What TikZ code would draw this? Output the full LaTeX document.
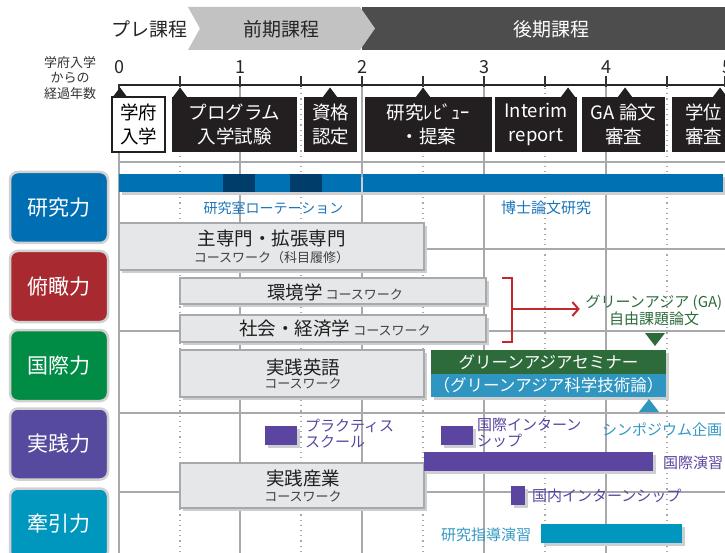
\documentclass[tikz,border=0pt]{standalone}
\usepackage{fontspec}
\setmainfont{Noto Sans CJK JP}
\usetikzlibrary{arrows.meta}
\newcommand{\fs}[2]{\fontsize{#1}{#2}\selectfont}
\definecolor{hdark}{HTML}{4D4D4D}
\definecolor{hlight}{HTML}{C2C2C2}
\definecolor{evblack}{HTML}{231F20}
\definecolor{gridgray}{HTML}{A7A9AC}
\definecolor{boxfill}{HTML}{E6E7E8}
\definecolor{shadowgray}{HTML}{CDCED0}
\definecolor{kblue}{HTML}{0071B3}
\definecolor{kdark}{HTML}{003D6B}
\definecolor{rowA}{HTML}{006EB2}
\definecolor{rowB}{HTML}{A8292F}
\definecolor{rowC}{HTML}{008C45}
\definecolor{rowD}{HTML}{564A9E}
\definecolor{rowE}{HTML}{0097BE}
\definecolor{purp}{HTML}{5B45A0}
\definecolor{gtext}{HTML}{2D6A3B}
\definecolor{semgreen}{HTML}{2E6B3A}
\definecolor{semblue}{HTML}{2E96C0}
\definecolor{tealbar}{HTML}{0097BF}
\definecolor{symtext}{HTML}{3398C4}
\definecolor{rottext}{HTML}{1B75B8}
\definecolor{bred}{HTML}{C1272D}
\tikzset{
  every node/.style={inner sep=0pt, outer sep=0pt},
  shadowed/.style={preaction={fill=shadowgray, transform canvas={xshift=3pt, yshift=-3pt}}},
  evbox/.style={fill=evblack, text=white, minimum height=55pt, align=center, font=\fs{18.5}{24}},
  rowbox/.style={rounded corners=8pt, draw=black!18, line width=2.5pt, text=white,
     minimum width=98pt, minimum height=71pt, font=\fs{21}{24}},
  cbox/.style={shadowed, fill=boxfill, draw=gridgray, line width=1.5pt},
  bigtxt/.style={font=\fs{18.5}{22}, text=black!88},
  smalltxt/.style={font=\fs{13}{15}, text=black!75},
  itemtxt/.style={font=\fs{15}{16.5}, align=left},
  gline/.style={draw=gridgray, line width=1.5pt},
  dline/.style={draw=gridgray, line width=1.3pt, dash pattern=on 1.2pt off 4pt},
}
\begin{document}
\begin{tikzpicture}[x=1pt,y=-1pt]
\useasboundingbox (0,0) rectangle (725,553);
% ---------- header bands
\fill[hdark] (362,7) rectangle (725,50);
\fill[hlight] (188,7) -- (360,7) -- (375,28.5) -- (360,50) -- (188,50) -- (200,28.5) -- cycle;
\node[font=\fs{19}{22}, text=black!85] (pre) at (149,29) {プレ課程};
\node[font=\fs{19}{22}, text=black!85] (zenki) at (281,29) {前期課程};
\node[font=\fs{19}{22}, text=white] (kouki) at (551,29) {後期課程};
% ---------- axis
\node[font=\fs{13}{15.5}, align=center, text=black!80] (elapsed) at (70,78) {学府入学\\からの\\経過年数};
\foreach \x/\n in {119/0,240/1,362/2,484/3,606/4,727/5}
  \node[font=\fs{18}{20}, text=black!85] (num\n) at (\x,67) {\n};
\draw[line width=1.5pt, black!85] (119,85) -- (725,85);
\foreach \x in {180,240,301,362,423,484,545,606,667,725}
  \draw[line width=1.2pt, black!80] (\x,76) -- (\x,87);
\draw[line width=1.2pt, black!80] (119,84) -- (119,90);
% ---------- grid
\foreach \x in {240,362,484,606}
  \draw[gline] (\x,87) -- (\x,553);
\draw[gline] (119,152) -- (119,553);
\foreach \x in {180,301,423,545,667}
  \draw[dline] (\x,88) -- (\x,553);
\foreach \y in {162,249,331,413,492}
  \draw[gline] (119,\y) -- (725,\y);
% ---------- event boxes
\node[evbox, fill=white, draw=evblack, line width=1.5pt, text=black, minimum width=53pt] (gakufu) at (138.5,124.5) {学府\\入学};
\node[evbox, minimum width=125pt] (program) at (234.5,124.5) {プログラム\\入学試験};
\node[evbox, minimum width=53pt] (shikaku) at (330.5,124.5) {資格\\認定};
\node[evbox, minimum width=127pt] (review) at (428.5,124.5) {研究ﾚﾋﾞｭｰ\\・提案};
\node[evbox, minimum width=82pt] (interim) at (536,124.5) {Interim\\report};
\node[evbox, minimum width=83pt] (gashinsa) at (623.5,124.5) {GA 論文\\審査};
\node[evbox, minimum width=63pt] (gakui) at (703.5,124.5) {学位\\審査};
\foreach \x in {120,180,330,423,568,625,720}
  \fill[evblack] (\x,87.5) -- (\x+7.5,97.5) -- (\x-7.5,97.5) -- cycle;
% ---------- row labels
\node[rowbox, fill=rowA] (kenkyu) at (59,207.5) {研究力};
\node[rowbox, fill=rowB] (fukan) at (59,286.5) {俯瞰力};
\node[rowbox, fill=rowC] (kokusai) at (59,365.5) {国際力};
\node[rowbox, fill=rowD] (jissen) at (59,444) {実践力};
\node[rowbox, fill=rowE] (kenin) at (59,524) {牽引力};
% ---------- research bar
\fill[shadowgray] (122,177) rectangle (726,195);
\fill[kblue] (119,174) rectangle (361,192);
\fill[kblue] (363,174) rectangle (723,192);
\fill[kdark] (223,174) rectangle (255,192);
\fill[kdark] (290,174) rectangle (322,192);
\node[font=\fs{14}{16}, text=rottext] (rotation) at (273.5,208) {研究室ローテーション};
\node[font=\fs{15}{17}, text=rottext] (hakase) at (546,208) {博士論文研究};
% ---------- coursework boxes
\node[cbox, minimum width=305pt, minimum height=47pt] (senmon) at (271.5,246.5) {};
\node[bigtxt] (senmonA) at (271.5,239) {主専門・拡張専門};
\node[smalltxt] (senmonB) at (271.5,257.5) {コースワーク（科目履修）};
\node[cbox, minimum width=306pt, minimum height=26pt] (kankyo) at (333,291) {};
\node[text=black!88] (kankyoT) at (335,292) {\fs{18.5}{22}環境学\,{\fs{13}{15}\color{black!75}コースワーク}};
\node[cbox, minimum width=306pt, minimum height=27pt] (shakai) at (333,328.5) {};
\node[text=black!88] (shakaiT) at (335,329) {\fs{18.5}{22}社会・経済学\,{\fs{13}{15}\color{black!75}コースワーク}};
\node[cbox, minimum width=244pt, minimum height=47pt] (eigo) at (302,373.5) {};
\node[bigtxt] (eigoA) at (303,367) {実践英語};
\node[smalltxt] (eigoB) at (303,384) {コースワーク};
\node[cbox, minimum width=244pt, minimum height=45pt] (sangyo) at (302,485.5) {};
\node[bigtxt] (sangyoA) at (303,478.5) {実践産業};
\node[smalltxt] (sangyoB) at (303,497) {コースワーク};
% ---------- bracket to GA paper
\node[font=\fs{15}{17}, text=gtext, align=center] (gapaper) at (654,310) {グリーンアジア (GA)\\自由課題論文};
\coordinate (brtop) at (502,278);
\coordinate (brbot) at (502,342);
\coordinate (brmid) at (512,309);
\draw[bred, line width=2pt] (brtop) -- (512,278) -- (512,342) -- (brbot);
\draw[bred, line width=2pt, -{Straight Barb[length=6pt, width=14pt, line width=2pt]}, shorten >=6pt] (brmid) -- (brmid -| gapaper.west);
\fill[semgreen] (645,333) -- (665,333) -- (655,346) -- cycle;
% ---------- seminar
\fill[shadowgray] (434,353) rectangle (669,400);
\node[fill=semgreen, minimum width=235pt, minimum height=24pt, text=white, font=\fs{16.5}{18}] (seminar) at (548.5,362) {グリーンアジアセミナー};
\node[fill=semblue, minimum width=235pt, minimum height=23pt, text=white, font=\fs{16.5}{18}] (kagaku) at (548.5,385.5) {（グリーンアジア科学技術論）};
\fill[semblue] (639,412) -- (659,412) -- (649,399) -- cycle;
\node[anchor=west, font=\fs{15}{17}, text=symtext] (sympo) at (602,430) {シンポジウム企画};
% ---------- practice items
\fill[shadowgray] (268,429) rectangle (300,448);
\fill[purp] (265,426) rectangle (297,445);
\node[anchor=west, itemtxt, text=purp] (practice) at (305,433.5) {プラクティス\\スクール};
\fill[shadowgray] (444,429) rectangle (476,448);
\fill[purp] (441,426) rectangle (473,445);
\node[anchor=west, itemtxt, text=purp] (intern) at (477,433) {国際インターン\\シップ};
\fill[shadowgray] (427,455) rectangle (656,474);
\fill[purp] (424,452) rectangle (653,471);
\node[anchor=west, font=\fs{15}{17}, text=purp] (enshu) at (663,463) {国際演習};
\fill[shadowgray] (514,489) rectangle (528,508);
\fill[purp] (511,486) rectangle (525,505);
\node[anchor=west, font=\fs{15}{17}, text=purp] (domestic) at (532,495.5) {国内インターンシップ};
\node[anchor=east, font=\fs{15}{17}, text=symtext] (shido) at (531,534.5) {研究指導演習};
\fill[shadowgray] (544,527) rectangle (685,546);
\fill[tealbar] (541,524) rectangle (682,543);
\end{tikzpicture}
\end{document}
